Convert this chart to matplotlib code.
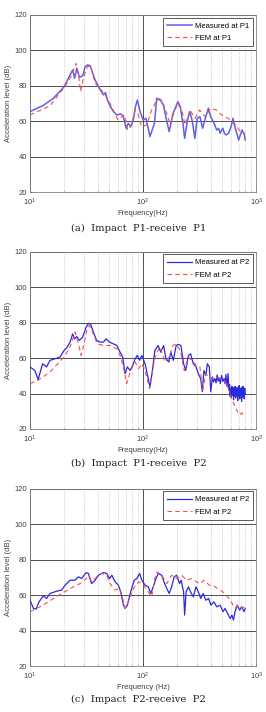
import matplotlib
matplotlib.use("Agg")
import matplotlib.pyplot as plt
from matplotlib.ticker import LogLocator, NullFormatter, FixedLocator, LogFormatterSciNotation

plt.rcParams['font.family'] = ['Liberation Sans', 'DejaVu Sans']

# ---------------- Panel (a): Impact P1 - receive P1 ----------------
a_meas_f = [10, 13.1, 16.1, 20, 22.6, 23.8, 24.8, 25.9, 27.3, 29.2, 30.7, 32.2, 34, 37.6, 41.6,
            44.6, 46.5, 48.4, 51, 54.6, 58.5, 63.5, 66.9, 70.7, 74, 78, 82, 85.5, 89, 94,
            100, 106, 115, 126, 132, 141, 151, 161, 170, 184, 203, 213, 225, 233, 247, 259,
            273, 287, 301, 318, 336, 352, 378, 396, 418, 448, 465, 480, 495, 507, 525, 543,
            570, 600, 624, 654, 700, 750, 787, 800]
a_meas_v = [65.5, 69, 73, 79.5, 86.2, 89, 84.3, 90, 84.9, 85.6, 90.9, 91.8, 91.4, 83.3, 78,
            74.9, 76.2, 72, 68.7, 65.5, 63.6, 64.2, 62.7, 56.1, 58.9, 57, 60.8, 68.3, 72, 65.5,
            60.8, 61.7, 51.4, 58.9, 73, 72.4, 69.2, 60.8, 54.2, 64.5, 71.1, 68.3, 58.9, 50.4, 60.8, 65.5,
            59.8, 50.4, 61.7, 62.6, 56.1, 60.8, 67.4, 62.6, 59.8, 55.1, 56, 53.3, 55, 56.1, 53, 52.3,
            53.3, 57, 61.7, 56.1, 49.5, 55.1, 52.3, 49.5]
a_fem_f = [10, 15, 20, 23.4, 25.5, 26.9, 28, 29.6, 32.2, 34.4, 37.6, 41.6, 47, 51, 56, 60, 68,
           73, 79, 85, 90, 97, 108, 119, 132, 146, 162, 174, 186, 202, 220, 235, 260, 288, 316,
           354, 398, 443, 496, 566, 654, 730, 800]
a_fem_v = [63.6, 68.7, 79, 86, 92.7, 86, 76.8, 84.3, 91, 91, 81.5, 78.6, 74, 70, 64.5, 60.8, 63.6,
           55, 58, 66.4, 64.5, 57, 58, 66.4, 72, 72, 64.5, 58, 64.5, 70, 66.4, 58, 66.4, 61.7, 66.4,
           62.6, 67.4, 66.4, 63.6, 61.7, 58, 54.2, 53.3]

# ---------------- Panel (b): Impact P1 - receive P2 ----------------
b_meas_f = [10, 11, 11.8, 12.9, 14, 15, 16.6, 18.4, 20, 21.1, 22.6, 23.8, 24.8, 25.9, 27.3, 29.2,
            31.3, 32.8, 34.4, 36.8, 38.9, 41.6, 44.6, 47, 50.4, 54.6, 58.5, 62.5, 66, 69.2, 72.6,
            76.7, 81, 85, 89, 93, 97.5, 104, 111, 115, 121, 127, 136, 143, 152, 159, 169, 176,
            185, 196, 205, 216, 228, 238, 252, 263, 278, 294, 308, 323, 334, 345, 359, 370, 385,
            397, 410, 420, 432, 442, 452, 461, 470, 482, 494, 507, 520, 530, 540, 552, 565,
            575, 582, 589, 596, 603, 610, 617, 624, 631, 638, 645, 652, 659, 666, 673, 680,
            687, 694, 701, 708, 715, 722, 729, 736, 743, 750, 757, 764, 771, 778, 785, 792, 800]
b_meas_v = [55, 53, 47.9, 56.8, 55, 58.7, 59.6, 60.6, 64.3, 65.8, 69, 73.6, 70.8, 72.1, 69.9, 71.8,
            77.4, 79.6, 78.9, 73.6, 69.9, 69, 69, 70.8, 69, 68, 67.1, 63.4, 60.6, 51.2, 55,
            53, 55.9, 59.6, 61.5, 58.7, 61.5, 56.8, 48.4, 43.7, 53, 64.3, 67.1, 63.4, 67.1, 59.6, 57.8, 63.4,
            58.7, 67.1, 67.7, 67.1, 56.8, 53, 61.5, 62.4, 56.8, 55, 51.2, 48.4, 41, 53, 50.3, 56.8, 55,
            41, 49.4, 46.5, 48.4, 46, 50.5, 47, 49, 45.5, 50.2, 46.8, 48.4, 45.5, 50.8, 44, 51.2,
            42, 45, 38.5, 43, 37.5, 44, 39, 42.5, 36.5, 43.5, 38.5, 44, 37.5, 42.5, 39, 43.5,
            36, 42, 38.5, 44.5, 37, 43, 39.5, 42, 35.5, 43.5, 38, 44, 39, 41.5, 37, 43, 39.5]
b_fem_f = [10, 11.8, 15, 20, 22.6, 25, 26.8, 28.3, 30, 32.2, 33.5, 36.3, 39.4, 44.6, 51, 58.5,
           63.5, 67.9, 71.5, 77.6, 85, 91, 97.5, 104, 114, 121, 130, 141, 156, 170, 183, 196,
           213, 231, 252, 268, 297, 318, 337, 359, 385, 432, 480, 520, 560, 600, 650, 710, 750, 800]
b_fem_v = [45.6, 47.5, 52.1, 60.6, 66.2, 74.6, 68, 61.5, 68, 77.4, 78.3, 73.6, 68, 67.1, 67.1, 65.2,
           60.6, 53, 45.6, 53, 57.8, 54, 56.8, 53, 42.8, 53, 62.4, 66.2, 57.8, 60.6, 67.1, 68,
           64.3, 53, 60.6, 58.7, 55.9, 55, 41.9, 51.2, 48.4, 49.4, 48.4, 47.5, 43.7, 38.1, 32.5, 27.9, 29.1, 26.9]

# ---------------- Panel (c): Impact P2 - receive P2 ----------------
c_meas_f = [10, 10.7, 11.3, 12, 13.1, 14, 15, 17.2, 19, 20.4, 22.6, 25, 26.8, 28.6, 31.3, 32.8,
            35, 37.6, 40.3, 44.6, 47.7, 50.4, 52.9, 56.5, 60.4, 63.5, 67, 69, 72.6, 77.6, 83.3,
            88, 93, 97.5, 104, 111, 117, 123, 130, 136, 146, 153, 162, 170, 179, 188, 198, 210,
            217, 228, 233, 240, 252, 263, 278, 294, 308, 323, 340, 359, 380, 398, 423, 448, 480,
            510, 530, 560, 590, 610, 630, 650, 680, 715, 745, 780, 800]
c_meas_v = [57.1, 52.5, 52.1, 56.2, 59.6, 58.1, 60.9, 62.2, 62.8, 65.6, 68.4, 68.4, 70.3, 69.3, 72.7, 72.2,
            66.5, 68.4, 71.2, 72.7, 72.2, 69.3, 71.2, 67.5, 65.6, 61.8, 54.3, 52.5, 54.3, 61.8, 68.4,
            69.3, 72.2, 68.4, 65.6, 64.7, 60.9, 64.7, 69.3, 72.2, 71.2, 67.5, 63.7, 60.9, 64.7, 70.3, 71.2, 66.5,
            68.4, 61.8, 48.7, 61.8, 64.7, 61.8, 59, 64.7, 61.8, 58.1, 60.9, 57.1, 58.1, 54.3, 56.2, 53.4, 54.3,
            50.6, 52.5, 49.6, 46.8, 48.7, 45.9, 50.6, 54.3, 51.5, 53.4, 50.6, 52.5]
c_fem_f = [10, 13, 17, 22.6, 27.7, 31.3, 33.5, 35, 39, 43, 47.7, 51, 56.5, 61.5, 66, 69, 74, 82,
           91, 101, 111, 119, 127, 133, 146, 162, 179, 198, 220, 243, 268, 297, 320, 345, 385,
           432, 480, 530, 590, 650, 700, 745, 800]
c_fem_v = [50.6, 54.3, 59, 63.7, 66.5, 69.3, 70.3, 67.5, 70.3, 72.2, 71.2, 66.5, 62.8, 63.7, 58.1, 52.5, 56.2, 63.7,
           67.5, 65.6, 61.8, 59, 69.3, 73.1, 71.2, 66.5, 71.2, 69.3, 71.2, 68.4, 69.3, 67.5, 66.5, 68.4, 65.6,
           64.7, 62.8, 60.9, 57.1, 52.5, 54.3, 52.5, 53.4]

panels = [
    (a_meas_f, a_meas_v, a_fem_f, a_fem_v, "Measured at P1", "FEM at P1",
     "Frequency(Hz)", "(a)  Impact  P1-receive  P1", '#6060e8', 1.1),
    (b_meas_f, b_meas_v, b_fem_f, b_fem_v, "Measured at P2", "FEM at P2",
     "Frequency(Hz)", "(b)  Impact  P1-receive  P2", '#2a2ae0', 0.9),
    (c_meas_f, c_meas_v, c_fem_f, c_fem_v, "Measured at P2", "FEM at P2",
     "Frequency (Hz)", "(c)  Impact  P2-receive  P2", '#2a2ae0', 0.9),
]

fig = plt.figure(figsize=(2.66, 7.12), dpi=100)
bottoms = [0.730, 0.3975, 0.0646]
caption_y = [0.673, 0.343, 0.011]
for (mf, mv, ff, fv, lm, lf, xl, cap, mcol, mlw), b, cy in zip(panels, bottoms, caption_y):
    ax = fig.add_axes([0.113, b, 0.85, 0.249])
    ax.set_xscale('log')
    ax.plot(mf, mv, color=mcol, lw=mlw, label=lm, zorder=3)
    ax.plot(ff, fv, color='#f05050', lw=0.8, ls=(0, (4, 3)), label=lf, zorder=4)
    ax.set_xlim(10, 1000)
    ax.set_ylim(20, 120)
    ax.set_yticks([20, 40, 60, 80, 100, 120])
    ax.xaxis.set_major_locator(FixedLocator([10, 100, 1000]))
    ax.xaxis.set_minor_locator(LogLocator(base=10, subs=range(2, 10)))
    ax.xaxis.set_minor_formatter(NullFormatter())
    ax.xaxis.set_major_formatter(LogFormatterSciNotation())
    ax.grid(True, which='major', color='#505050', lw=0.7, ls='-')
    ax.grid(True, which='minor', axis='x', color='#b0b0b0', lw=0.5, ls=':')
    ax.set_axisbelow(True)
    for s in ax.spines.values():
        s.set_color('#808080')
        s.set_linewidth(0.6)
    ax.tick_params(which='both', direction='in', labelsize=5.5, colors='#404040',
                   length=1.5, width=0.5, pad=2)
    ax.tick_params(axis='x', which='major', pad=3.5)
    ax.tick_params(which='minor', length=1)
    ax.set_xlabel(xl, fontsize=5.5, color='#404040', labelpad=1.0)
    ax.set_ylabel("Acceleration level (dB)", fontsize=5.5, color='#404040', labelpad=2)
    leg = ax.legend(loc='upper right', fontsize=5.5, frameon=True, fancybox=False,
                    borderpad=0.6, handlelength=3.2, handletextpad=0.4, borderaxespad=0.35,
                    labelspacing=0.65)
    leg.get_frame().set_edgecolor('#404040')
    leg.get_frame().set_linewidth(0.6)
    leg.get_frame().set_alpha(1)
    fig.text(0.52, cy, cap, ha='center', va='bottom', fontsize=7.2,
             family=['DejaVu Serif'], color='#202020')

fig.savefig("out.png", dpi=100)
